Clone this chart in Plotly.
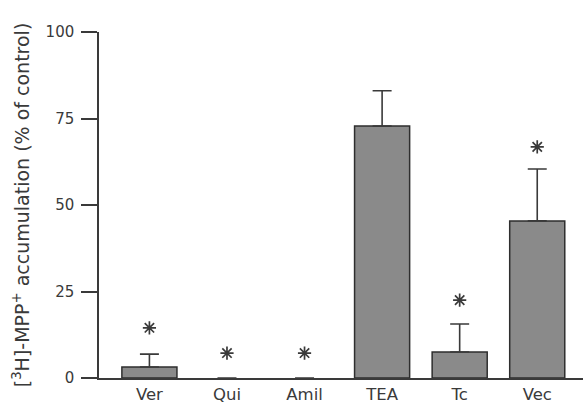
import plotly.graph_objects as go

categories = ["Ver", "Qui", "Amil", "TEA", "Tc", "Vec"]
values = [3.2, 0, 0, 72.8, 7.5, 45.4]
errors = [3.7, None, None, 10.2, 8.1, 15.0]
star_y = [14.5, 7.2, 7.2, None, 22.5, 66.8]
y_ticks = [0, 25, 50, 75, 100]

FONT = "DejaVu Sans, Liberation Sans, Arial, sans-serif"
INK = "#3a3a3a"

fig = go.Figure()
fig.add_trace(go.Bar(
    x=categories, y=values, width=0.71,
    marker=dict(color="#8a8a8a",
                line=dict(color="#2e2e2e", width=[1.5 if v else 0 for v in values])),
    error_y=dict(type="data", symmetric=False, array=errors,
                 arrayminus=[0] * len(errors), color="#3a3a3a",
                 thickness=1.6, width=9.5),
))
fig.add_trace(go.Scatter(
    x=categories, y=star_y, mode="markers",
    marker=dict(symbol="asterisk-open", size=11, color=INK,
                line=dict(color=INK, width=1.7)),
    hoverinfo="skip",
))
fig.update_layout(
    width=583, height=403,
    margin=dict(l=99, r=0, t=32, b=25),
    paper_bgcolor="white", plot_bgcolor="white",
    showlegend=False,
    font=dict(family=FONT, color=INK),
    xaxis=dict(range=[-0.65, 5.59], showline=True, linecolor=INK, linewidth=1.5,
               ticks="", tickfont=dict(size=16.5, color=INK), showgrid=False,
               zeroline=False),
    yaxis=dict(range=[0, 100], tickvals=y_ticks, showline=True, linecolor=INK,
               linewidth=1.5, ticks="outside", ticklen=16, tickwidth=1.5,
               tickcolor=INK, tickfont=dict(size=15, color=INK), showgrid=False,
               zeroline=False, ticklabelstandoff=4,
               title=dict(text="[<sup>3</sup>H]-MPP<sup>+</sup> accumulation (% of control)",
                          font=dict(size=19, color=INK), standoff=11)),
)
fig.write_html("out.html")
